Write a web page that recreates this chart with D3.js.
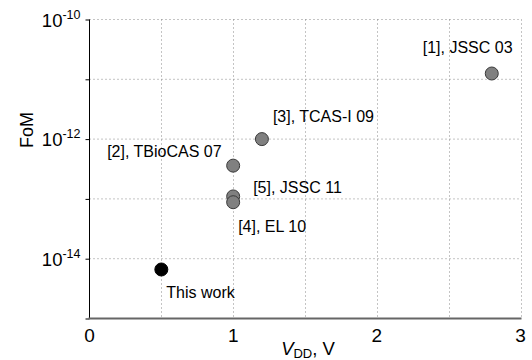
<!DOCTYPE html>
<html><head><meta charset="utf-8">
<script src="https://cdn.jsdelivr.net/npm/d3@7"></script>
<style>body{margin:0;background:#fff}svg{display:block;font-family:"Liberation Sans",Arial,sans-serif}</style>
</head><body>
<svg id="c" width="532" height="360"></svg>
<script>
// data
const labels = ["[1], JSSC 03", "[3], TCAS-I 09", "[2], TBioCAS 07", "[5], JSSC 11", "[4], EL 10", "This work"];
const vdd = [2.8, 1.2, 1.0, 1.0, 1.0, 0.5];
const fom = [1.25e-11, 1.0e-12, 3.6e-13, 1.1e-13, 8.8e-14, 6.6e-15];
const isThisWork = [false, false, false, false, false, true];
const xTicks = [0, 1, 2, 3];
const xGrid = [0.5, 1, 1.5, 2, 2.5, 3];
const yTickExp = [-10, -12, -14];
const yGridExp = [-10, -11, -12, -13, -14];
// layout (label offsets from markers, px)
const labelDx = [-69, 11, -126, 20, 5, 5];
const labelDy = [-21, -17, -9, -3, 30, 29];

const svg = d3.select("#c");
const x = d3.scaleLinear().domain([0, 3]).range([89.5, 520.5]);
const y = d3.scaleLog().domain([1e-15, 1e-10]).range([318.5, 19.5]);

// grid
const g = svg.append("g").attr("stroke", "#888").attr("stroke-width", 1).attr("stroke-dasharray", "1,3");
g.selectAll(".gx").data(xGrid).join("line")
  .attr("x1", d => Math.round(x(d)) + 0.5).attr("x2", d => Math.round(x(d)) + 0.5)
  .attr("y1", y(1e-10)).attr("y2", y(1e-15));
g.selectAll(".gy").data(yGridExp).join("line")
  .attr("x1", x(0)).attr("x2", x(3))
  .attr("y1", d => y(Math.pow(10, d))).attr("y2", d => y(Math.pow(10, d)));

// y axis ticks (outward)
const yAxis = d3.axisLeft(y).tickValues(yGridExp.map(e => Math.pow(10, e)).concat([1e-15]))
  .tickSize(4).tickFormat("");
const ya = svg.append("g").attr("transform", `translate(${x(0)},0)`).call(yAxis);
ya.selectAll("path,line").attr("stroke", "#000");
ya.select(".domain").attr("d", `M0,${y(1e-10)}V${y(1e-15)}`);

// x axis line
svg.append("line").attr("x1", x(0) - 1).attr("x2", x(3) + 1)
  .attr("y1", y(1e-15)).attr("y2", y(1e-15))
  .attr("stroke", "#666").attr("stroke-width", 2);

// y tick labels
yTickExp.forEach(e => {
  const t = svg.append("text").attr("x", x(0) - 9).attr("y", y(Math.pow(10, e)) + 7)
    .attr("text-anchor", "end").attr("font-size", 18.5).attr("fill", "#000");
  t.append("tspan").text("10");
  t.append("tspan").attr("dy", -8).attr("font-size", 12.5).text("\u2212" + Math.abs(e).toString().replace(/^/, "")).text("-" + Math.abs(e));
});

// x tick labels
svg.selectAll(".xt").data(xTicks).join("text")
  .attr("x", d => x(d)).attr("y", 342).attr("text-anchor", "middle")
  .attr("font-size", 19).text(d => d);

// axis titles
const xt = svg.append("text").attr("x", 308).attr("y", 355).attr("text-anchor", "middle").attr("font-size", 18.5);
xt.append("tspan").attr("font-style", "italic").text("V");
xt.append("tspan").attr("font-size", 13).attr("dy", 3).text("DD");
xt.append("tspan").attr("dy", -3).text(", V");

svg.append("text").attr("transform", "translate(33,130) rotate(-90)")
  .attr("text-anchor", "middle").attr("font-size", 18).text("FoM");

// points
const pts = labels.map((l, i) => ({l, x: vdd[i], y: fom[i], tw: isThisWork[i], dx: labelDx[i], dy: labelDy[i]}));
svg.selectAll(".pt").data(pts).join("circle")
  .attr("cx", d => x(d.x)).attr("cy", d => y(d.y)).attr("r", 6.5)
  .attr("fill", d => d.tw ? "#000" : "#808080")
  .attr("stroke", d => d.tw ? "#000" : "#3a3a3a").attr("stroke-width", 1);

svg.selectAll(".lb").data(pts).join("text")
  .attr("x", d => x(d.x) + d.dx).attr("y", d => y(d.y) + d.dy)
  .attr("font-size", 16).attr("fill", "#000").text(d => d.l);
</script>
</body></html>
